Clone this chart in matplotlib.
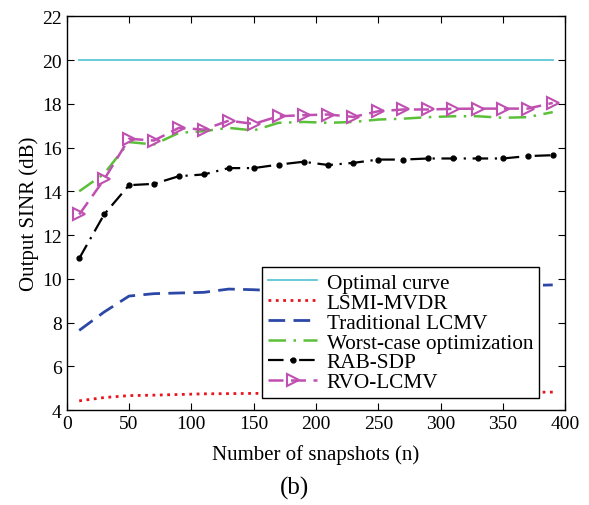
import numpy as np
import matplotlib.pyplot as plt

plt.rcParams['font.family'] = ['Liberation Serif', 'DejaVu Serif']

# number of snapshots
n = [10, 30, 50, 70, 90, 110, 130, 150, 170, 190,
     210, 230, 250, 270, 290, 310, 330, 350, 370, 390]

optimal = [20.0] * 20
lsmi = [4.42, 4.57, 4.66, 4.68, 4.71, 4.74, 4.75, 4.76, 4.76, 4.77,
        4.77, 4.78, 4.78, 4.79, 4.79, 4.80, 4.80, 4.81, 4.81, 4.82]
lcmv = [7.64, 8.48, 9.21, 9.32, 9.35, 9.38, 9.53, 9.50, 9.45, 9.50,
        9.55, 9.52, 9.56, 9.60, 9.60, 9.64, 9.62, 9.66, 9.69, 9.72]
worst = [14.0, 14.8, 16.25, 16.14, 16.67, 16.75, 16.90, 16.78, 17.13, 17.17,
         17.13, 17.17, 17.28, 17.32, 17.39, 17.43, 17.43, 17.36, 17.39, 17.62]
rab = [10.93, 12.94, 14.28, 14.34, 14.69, 14.77, 15.06, 15.06, 15.22, 15.35,
       15.20, 15.30, 15.45, 15.45, 15.50, 15.50, 15.50, 15.50, 15.61, 15.65]
rvo = [12.94, 14.54, 16.40, 16.32, 16.90, 16.82, 17.23, 17.08, 17.43, 17.48,
       17.51, 17.40, 17.66, 17.74, 17.74, 17.77, 17.78, 17.78, 17.78, 18.04]

fig = plt.figure(figsize=(5.89, 5.06), dpi=100)
ax = fig.add_axes([0.1133, 0.1877, 0.8463, 0.7781])

ax.plot(n, optimal, '-', color='#5cc6d6', lw=1.3, label='Optimal curve')
ax.plot(n, lsmi, ':', color='#e8141e', lw=2.0, label='LSMI-MVDR')
ax.plot(n, lcmv, '--', color='#2c48a6', lw=2.0, dashes=(6, 3), label='Traditional LCMV')
ax.plot(n, worst, '-.', color='#5cbf3a', lw=1.8, dashes=(7, 3, 1, 3), label='Worst-case optimization')
ax.plot(n, rab, '-.', color='black', lw=1.6, dashes=(7, 3, 1, 3), marker='.', ms=7,
        label='RAB-SDP')
ax.plot(n, rvo, '--', color='#c04fb2', lw=1.8, dashes=(6, 3), marker='>', ms=9,
        mfc='none', mew=1.5, label='RVO-LCMV')

ax.set_xlim(0, 400)
ax.set_ylim(4, 22)
ax.set_xticks(range(0, 401, 50))
ax.set_yticks(range(4, 23, 2))
ax.tick_params(direction='in', top=True, right=True, labelsize=14, length=5, width=0.8)
for s in ax.spines.values():
    s.set_linewidth(1.0)

ax.set_xlabel('Number of snapshots (n)', fontsize=15, labelpad=9)
ax.set_ylabel('Output SINR (dB)', fontsize=15, labelpad=2)

leg = ax.legend(loc='lower left', bbox_to_anchor=(0.392, 0.03),
                fontsize=15.3, frameon=True, fancybox=False,
                framealpha=1, edgecolor='black', handlelength=2.3, handletextpad=0.45,
                labelspacing=0.0, borderpad=0.28, borderaxespad=0)
leg.get_frame().set_linewidth(1.0)

fig.text(0.5, 0.022, '(b)', ha='center', fontsize=18)

fig.savefig('out.png', dpi=100)
